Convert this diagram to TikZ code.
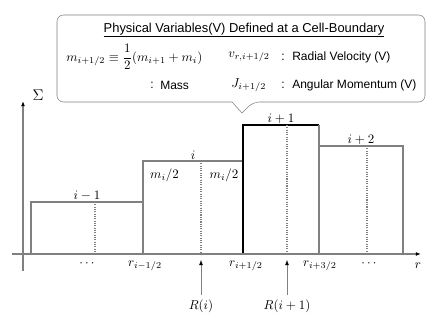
\documentclass[tikz,border=0pt]{standalone}
\usepackage{amsmath}
\usepackage{fontspec}
\setsansfont{Liberation Sans}
\usetikzlibrary{arrows.meta}
\definecolor{mgray}{gray}{0.5}
\tikzset{bar/.style = {draw=mgray, thick}}
\tikzset{midline/.style = {draw=mgray, densely dotted, thick}}
\tikzset{axis/.style = {draw=mgray, thick, -{Latex[length=4pt,width=3pt,black]}}}
\tikzset{callout/.style = {draw=mgray, thin}}
\tikzset{boxtext/.style = {font=\sffamily\fontsize{9.3}{11}\selectfont, inner sep=0pt}}
\tikzset{every path/.style={line cap=butt}}

\begin{document}
\begin{tikzpicture}[x=2.72mm, y=2.72mm]
      \useasboundingbox (0,0) rectangle (43.6,33.1);

      \def\base{7.7}

      \draw[callout] (5.7,22.9) [rounded corners=5pt] -- (5.7,31.6) -- (42.5,31.6) -- (42.5,22.9) -- (25.3,22.9)
        [sharp corners] -- (24.2,21.8) -- (23.2,22.9) [rounded corners=5pt] -- cycle;

      \node[boxtext, font=\sffamily] (title) at (24.4,30.1) {\underline{Physical Variables(V) Defined at a Cell-Boundary}};
      \node[inner sep=0pt, anchor=west] (mdef) at (6.6,27.4) {$m_{i+1/2} \equiv \dfrac{1}{2}(m_{i+1}+m_i)$};
      \node[boxtext] (mcolon) at (15.2,24.6) {:};
      \node[boxtext, anchor=west] (mname) at (16.0,24.6) {Mass};
      \node[inner sep=0pt, anchor=west] (vdef) at (22.8,27.4) {$v_{r,i+1/2}$};
      \node[boxtext] (vcolon) at (28.3,27.4) {:};
      \node[boxtext, anchor=west] (vname) at (29.2,27.4) {Radial Velocity (V)};
      \node[inner sep=0pt, anchor=west] (jdef) at (23.1,24.6) {$J_{i+1/2}$};
      \node[boxtext] (jcolon) at (28.3,24.6) {:};
      \node[boxtext, anchor=west] (jname) at (29.2,24.6) {Angular Momentum (V)};

      \draw[bar] (3.1,\base) -- (3.1,12.9) -- (14.3,12.9) -- (14.3,\base);
      \draw[bar] (14.3,12.9) -- (14.3,17.0) -- (24.3,17.0) -- (24.3,\base);
      \draw[bar] (31.9,18.5) -- (40.3,18.5) -- (40.3,\base);
      \draw[thick] (24.3,\base) -- (24.3,20.6) -- (31.9,20.6);
      \draw[bar] (31.9,20.6) -- (31.9,\base);

      \draw[midline] (9.5,12.9) -- (9.5,\base);
      \draw[midline] (20.1,17.0) -- (20.1,\base);
      \draw[midline] (28.7,20.6) -- (28.7,\base);
      \draw[midline] (36.7,18.5) -- (36.7,\base);

      \node[anchor=south, inner sep=1pt] (cellA) at (8.7,12.9) {$i-1$};
      \node[anchor=south, inner sep=1pt] (cellB) at (19.3,17.0) {$i$};
      \node[anchor=south, inner sep=1pt] (cellC) at (28.1,20.6) {$i+1$};
      \node[anchor=south, inner sep=1pt] (cellD) at (36.1,18.5) {$i+2$};
      \node (halfL) at (16.45,15.6) {$m_i/2$};
      \node (halfR) at (22.4,15.6) {$m_i/2$};

      \coordinate (xstart) at (1.2,\base);
      \coordinate (xend) at (42.1,\base);
      \coordinate (ystart) at (2.3,6.0);
      \coordinate (yend) at (2.3,23.0);
      \draw[axis] (xstart) -- (xend);
      \draw[axis] (ystart) -- (yend);
      \node[font=\large] (sigma) at (3.8,23.6) {$\Sigma$};
      \node (rlab) at (41.8,6.5) {$r$};

      \node (dotsL) at (8.8,6.7) {$\cdots$};
      \node (rA) at (14.5,6.5) {$r_{i-1/2}$};
      \node (rB) at (24.6,6.5) {$r_{i+1/2}$};
      \node (rC) at (32.0,6.5) {$r_{i+3/2}$};
      \node (dotsR) at (37.0,6.7) {$\cdots$};

      \node (Ri) at (20.1,2.5) {$R(i)$};
      \node (Rj) at (28.7,2.5) {$R(i+1)$};
      \coordinate (Ritop) at (20.1,7.1);
      \coordinate (Rjtop) at (28.7,7.1);
      \draw[axis, thin] (Ri) -- (Ritop);
      \draw[axis, thin] (Rj) -- (Rjtop);

\end{tikzpicture}
\end{document}
